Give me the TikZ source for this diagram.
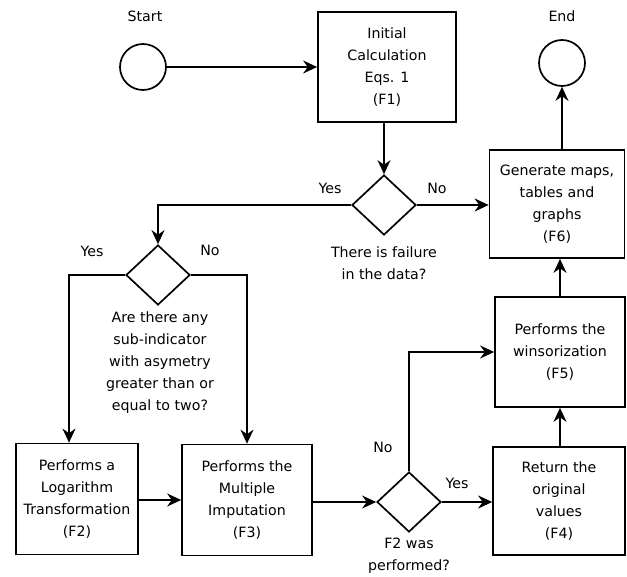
\documentclass[tikz,border=0pt]{standalone}
\usepackage{fontspec}
\setmainfont{DejaVu Sans}
\usepackage{tikz}
\usetikzlibrary{arrows.meta, shapes.geometric}

\begin{document}
\begin{tikzpicture}[
    x=1pt, y=-1pt,
    every node/.style={font=\fontsize{14.2}{22}\selectfont},
    proc/.style={draw, line width=1.7pt, align=center, inner sep=0pt},
    term/.style={draw, line width=1.7pt, circle, minimum size=46pt, inner sep=0pt},
    dec/.style={draw, line width=1.7pt, diamond, minimum width=64pt,
                minimum height=60pt, inner sep=0pt},
    lbl/.style={align=center, inner sep=0pt},
    arr/.style={-{Stealth[length=14pt, width=13pt]}, line width=1.7pt},
  ]
    \useasboundingbox (0,0) rectangle (627,577);

    % Start / End
    \node[term] (start) at (143,67) {};
    \node[lbl] (startlbl) at (145,16) {Start};
    \node[term] (end) at (562,63) {};
    \node[lbl] (endlbl) at (562,16) {End};

    % Boxes
    \node[proc, minimum width=138pt, minimum height=110pt] (f1) at (387,67)
         {Initial\\Calculation\\Eqs. 1\\(F1)};
    \node[proc, minimum width=135pt, minimum height=108pt] (f6) at (557,204)
         {Generate maps,\\tables and\\graphs\\(F6)};
    \node[proc, minimum width=130pt, minimum height=110pt] (f5) at (560,352)
         {Performs the\\winsorization\\(F5)};
    \node[proc, minimum width=132pt, minimum height=108pt] (f4) at (559,501)
         {Return the\\original\\values\\(F4)};
    \node[proc, minimum width=130pt, minimum height=111pt] (f3) at (247,500)
         {Performs the\\Multiple\\Imputation\\(F3)};
    \node[proc, minimum width=122pt, minimum height=111pt] (f2) at (77,499)
         {Performs a\\Logarithm\\Transformation\\(F2)};

    % Decisions
    \node[dec] (d1) at (384,205) {};
    \node[lbl, anchor=north] (q1) at (384,247) {There is failure\\in the data?};
    \node[lbl] (y1) at (330,188) {Yes};
    \node[lbl] (n1) at (437,188) {No};

    \node[dec] (d2) at (158,275) {};
    \node[lbl, anchor=north] (q2) at (160,312)
         {Are there any\\sub-indicator\\with asymetry\\greater than or\\equal to two?};
    \node[lbl] (y2) at (92,251) {Yes};
    \node[lbl] (n2) at (210,250) {No};

    \node[dec] (d3) at (409,502) {};
    \node[lbl, anchor=north] (q3) at (409,538) {F2 was\\performed?};
    \node[lbl] (n3) at (383,447) {No};
    \node[lbl] (y3) at (457,483) {Yes};

    % Connectors
    \draw[arr] (start) -- (f1);
    \draw[arr] (f1.south -| d1) -- (d1.north);
    \draw[arr] (d1.east) -- (d1.east -| f6.west);
    \draw[arr] (d1.west) -| (d2.north);
    \draw[arr] (d2.west) -| ([xshift=-8pt]f2.north);
    \draw[arr] (d2.east) -| (f3.north);
    \draw[arr] (f2.east |- f3) -- (f3.west);
    \draw[arr] (f3.east |- d3) -- (d3.west);
    \draw[arr] (d3.east) -- (d3.east -| f4.west);
    \draw[arr] (d3.north) |- (f5.west);
    \draw[arr] (f4.north -| f5) -- (f5.south);
    \draw[arr] (f5.north) -- (f5.north |- f6.south);
    \draw[arr] (end |- f6.north) -- (end);
  \end{tikzpicture}
\end{document}
